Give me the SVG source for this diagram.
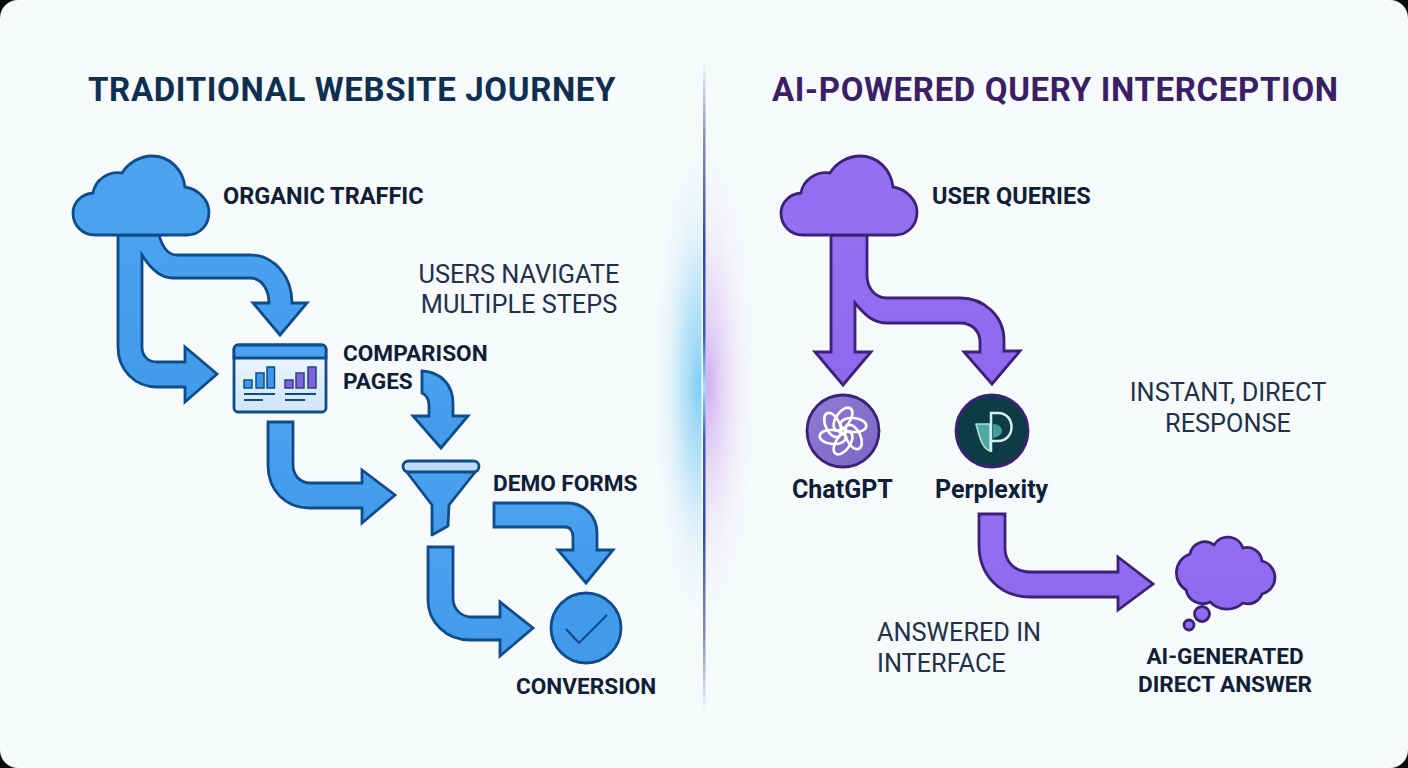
<svg xmlns="http://www.w3.org/2000/svg" width="1408" height="768" viewBox="0 0 1408 768">
<defs>
<style>
text{font-family:Roboto,"Liberation Sans",sans-serif}
.t{font-size:33px;font-weight:700;letter-spacing:.65px}
.l{font-size:22.6px;font-weight:700;fill:#0f2036}
.m{font-size:23.5px}
.n{font-size:25.3px;font-weight:400;fill:#22304a}
.b{fill:url(#gb);stroke:#0f4c8a;stroke-width:2.800;stroke-linejoin:miter}
.p{fill:url(#gp);stroke:#3c2277;stroke-width:2.800;stroke-linejoin:miter}
</style>
<linearGradient id="gb" x1="0" y1="0" x2="0" y2="1"><stop offset="0" stop-color="#4ba2ef"/><stop offset="1" stop-color="#429aeb"/></linearGradient>
<linearGradient id="gp" x1="0" y1="0" x2="0" y2="1"><stop offset="0" stop-color="#946ff2"/><stop offset="1" stop-color="#8e68ee"/></linearGradient>
<radialGradient id="gl1"><stop offset="0" stop-color="#7accf3" stop-opacity=".95"/><stop offset=".4" stop-color="#a6dcf6" stop-opacity=".65"/><stop offset=".75" stop-color="#cfeafa" stop-opacity=".25"/><stop offset="1" stop-color="#e4f3fb" stop-opacity="0"/></radialGradient>
<radialGradient id="gl2"><stop offset="0" stop-color="#cfa6f0" stop-opacity=".9"/><stop offset=".4" stop-color="#e0cdf7" stop-opacity=".6"/><stop offset=".75" stop-color="#eee4fb" stop-opacity=".25"/><stop offset="1" stop-color="#f4effc" stop-opacity="0"/></radialGradient>
<linearGradient id="ln" x1="0" y1="0" x2="0" y2="1"><stop offset="0" stop-color="#3b4a8c" stop-opacity="0"/><stop offset=".12" stop-color="#55608f" stop-opacity=".7"/><stop offset=".28" stop-color="#2f4aa0"/><stop offset=".42" stop-color="#3a5cb0"/><stop offset=".5" stop-color="#9be6f0"/><stop offset=".58" stop-color="#3a5cb0"/><stop offset=".72" stop-color="#2f4aa0"/><stop offset=".88" stop-color="#55608f" stop-opacity=".7"/><stop offset="1" stop-color="#3b4a8c" stop-opacity="0"/></linearGradient>
<linearGradient id="hl" x1="0" y1="0" x2="0" y2="1"><stop offset="0" stop-color="#fff" stop-opacity="0"/><stop offset=".3" stop-color="#fff" stop-opacity=".9"/><stop offset=".7" stop-color="#fff" stop-opacity=".9"/><stop offset="1" stop-color="#fff" stop-opacity="0"/></linearGradient>
<linearGradient id="pg" x1="0" y1="0" x2="0" y2="1"><stop offset="0" stop-color="#f2f8fe"/><stop offset="1" stop-color="#cfe5f9"/></linearGradient>
<linearGradient id="cg" x1="0" y1="0" x2="1" y2="1"><stop offset="0" stop-color="#8f7cd6"/><stop offset="1" stop-color="#7a66c4"/></linearGradient>
<clipPath id="cl"><rect x="620" y="130" width="83" height="520"/></clipPath>
<clipPath id="cr"><rect x="705" y="130" width="90" height="520"/></clipPath>
<path id="cloud" d="M95 235C82 235 73 225 73 213C73 202 82 194 93 193C95 180 108 171 122 173C128 163 140 156 152 156C170 156 183 170 185 187C198 189 209 200 209 212C209 225 200 235 187 235Z"/>
</defs>
<rect width="1408" height="768" fill="#0a0a0a"/>
<rect width="1408" height="768" rx="18" fill="#f6fafb"/>
<g id="divider">
<ellipse cx="699" cy="385" rx="46" ry="240" fill="url(#gl1)" clip-path="url(#cl)"/>
<ellipse cx="708" cy="385" rx="48" ry="240" fill="url(#gl2)" clip-path="url(#cr)"/>
<rect x="701.500" y="150" width="1.500" height="480" fill="url(#hl)"/>
<rect x="703" y="62" width="2.500" height="650" fill="url(#ln)"/>
</g>
<text class="t" x="88" y="101" fill="#0f2f52">TRADITIONAL WEBSITE JOURNEY</text>
<text class="t" x="772" y="101" fill="#3a1f66">AI-POWERED QUERY INTERCEPTION</text>
<g id="connectors">
<path class="b" d="M118 235V347C118 370 135 387 157 387H185V402L217 374L185 347V362H157C148 362 142 356 142 347V255C150 268 160 278 173 278H250C262 278 269 290 269 303H253L280 335L307 303H292C292 276 274 255 250 255H177C168 255 162 246 159 235Z"/>
<path class="b" d="M268 422V465C268 490 285 508 310 508H362V523L395 495L362 470V483H310C300 483 293 475 293 465V422Z"/>
<path class="b" d="M422 371C442 372 453 386 453 403V416H468L441 448L413 416H429V405C429 398 426 395 422 393Z"/>
<path class="b" d="M494 503H567C585 503 597 517 597 533V550H613L586 583L558 550H573V537C573 531 570 527 565 527H494Z"/>
<path class="b" d="M428 547H453V598C453 609 461 617 472 617H500V602L533 628L500 656V640H470C446 640 428 622 428 600Z"/>
<path class="p" d="M831 235V352H815L843 385L871 352H855V303C865 315 873 323 887 323H960C972 323 980 331 980 342V352H964L992 384L1020 351H1004V340C1004 316 984 298 960 298H887C875 298 867 288 867 275V235Z"/>
<path class="p" d="M979 514V545C979 575 1000 597 1030 597H1118V610L1153 584L1118 557V572H1030C1015 572 1005 562 1005 548V514Z"/>
</g>
<g id="organic-traffic"><use href="#cloud" fill="#4ba2ef" stroke="#0f4c8a" stroke-width="2.800"/><text class="l m" x="223" y="204">ORGANIC TRAFFIC</text></g>
<g id="user-queries"><use href="#cloud" x="708" fill="#946ff2" stroke="#3c2277" stroke-width="2.800"/><text class="l m" x="932" y="204">USER QUERIES</text></g>
<g id="comparison-pages">
<rect x="234" y="345" width="92" height="67" rx="4" fill="url(#pg)" stroke="#0f4c8a" stroke-width="2.800"/>
<path d="M234 358V349a4 4 0 0 1 4-4h84a4 4 0 0 1 4 4v9Z" fill="#4ba2ef" stroke="#0f4c8a" stroke-width="2.800"/>
<g fill="#3f97e8" stroke="#0f4c8a" stroke-width="1.500"><rect x="244" y="380" width="8" height="8"/><rect x="256" y="373" width="8" height="15"/><rect x="267" y="367" width="7.500" height="21"/></g>
<g fill="#7f63d8" stroke="#2b3f8e" stroke-width="1.500"><rect x="285" y="380" width="8" height="8"/><rect x="296" y="373" width="8" height="15"/><rect x="308" y="367" width="8" height="21"/></g>
<path d="M244 394H275M244 400H263M285 394H316M285 400H305" stroke="#0f4c8a" stroke-width="2" fill="none"/>
<text class="l" x="343" y="361">COMPARISON</text><text class="l" x="343" y="389">PAGES</text>
</g>
<g id="demo-forms">
<path d="M432 505V535L448 526L449 505L476 471H406Z" fill="url(#gb)" stroke="#0f4c8a" stroke-width="2.800" stroke-linejoin="round"/>
<rect x="403" y="461" width="76" height="11" rx="5.500" fill="#bfdcf7" stroke="#0f4c8a" stroke-width="2.800"/>
<text class="l" x="493" y="491">DEMO FORMS</text>
</g>
<g id="conversion">
<circle cx="586" cy="628" r="35" fill="#429aeb" stroke="#0f4c8a" stroke-width="2.800"/>
<path d="M566 629L579 643L607 615" fill="none" stroke="#0f4c8a" stroke-width="2.200"/>
<text class="l" x="516" y="694">CONVERSION</text>
</g>
<g id="chatgpt">
<circle cx="843" cy="431" r="36" fill="url(#cg)" stroke="#3c2277" stroke-width="2.800"/>
<g fill="none" stroke="#fff" stroke-width="2.600">
<ellipse cx="843" cy="419" rx="7" ry="13" transform="rotate(0 843 431) rotate(35 843 419)"/>
<ellipse cx="843" cy="419" rx="7" ry="13" transform="rotate(60 843 431) rotate(35 843 419)"/>
<ellipse cx="843" cy="419" rx="7" ry="13" transform="rotate(120 843 431) rotate(35 843 419)"/>
<ellipse cx="843" cy="419" rx="7" ry="13" transform="rotate(180 843 431) rotate(35 843 419)"/>
<ellipse cx="843" cy="419" rx="7" ry="13" transform="rotate(240 843 431) rotate(35 843 419)"/>
<ellipse cx="843" cy="419" rx="7" ry="13" transform="rotate(300 843 431) rotate(35 843 419)"/>
</g>
<text class="l" x="792" y="498" style="font-size:25px">ChatGPT</text>
</g>
<g id="perplexity">
<circle cx="992" cy="431" r="36" fill="#0f3b44" stroke="#3c2277" stroke-width="2.800"/>
<path d="M993 424C1004 424 1006 436 993 438Z" fill="#3f9c98"/>
<path d="M976 424H990V451C983 449 980 440 976 424Z" fill="#4fa8a4" stroke="#a8e4dc" stroke-width="1.500" stroke-linejoin="round"/>
<path d="M991 452V413H998C1016 413 1016 441 998 441H992" fill="none" stroke="#d4f0ec" stroke-width="2.500"/>
<text class="l" x="935" y="498" style="font-size:25px">Perplexity</text>
</g>
<g id="direct-answer">
<path class="p" d="M1186 590A20 20 0 0 1 1190 554A15 15 0 0 1 1214 545A16 16 0 0 1 1243 548A15 15 0 0 1 1262 561A17 17 0 0 1 1262 594A15 15 0 0 1 1243 603A24 24 0 0 1 1210 602A17 17 0 0 1 1186 590Z"/>
<circle cx="1202" cy="614" r="7.500" class="p"/>
<circle cx="1189" cy="625" r="5" class="p"/>
<text class="l" x="1225" y="664" text-anchor="middle">AI-GENERATED</text>
<text class="l" x="1225" y="692" text-anchor="middle">DIRECT ANSWER</text>
</g>
<text class="n" x="519" y="283" text-anchor="middle">USERS NAVIGATE</text>
<text class="n" x="519" y="313" text-anchor="middle">MULTIPLE STEPS</text>
<text class="n" x="1228" y="401" text-anchor="middle">INSTANT, DIRECT</text>
<text class="n" x="1228" y="432" text-anchor="middle">RESPONSE</text>
<text class="n" x="877" y="641">ANSWERED IN</text>
<text class="n" x="877" y="672">INTERFACE</text>
</svg>
